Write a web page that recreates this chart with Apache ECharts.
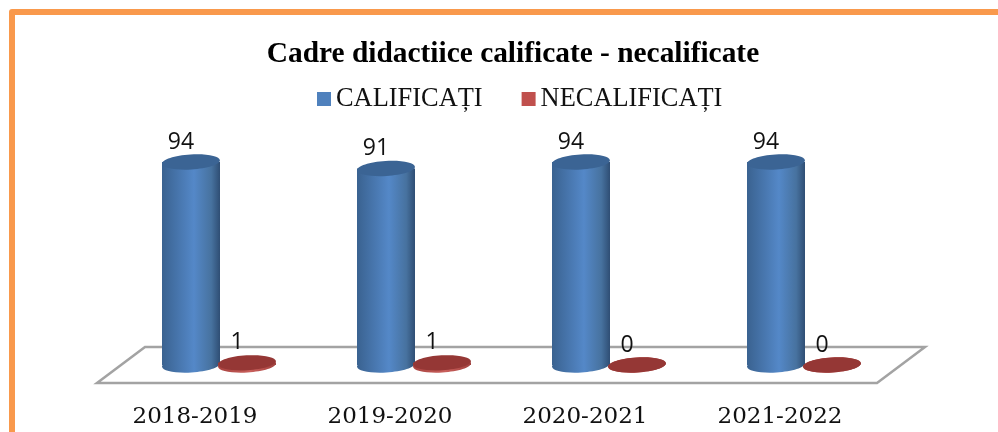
<!DOCTYPE html>
<html>
<head>
<meta charset="utf-8">
<style>
  html, body { margin: 0; padding: 0; background: #fff; }
  #main { width: 998px; height: 432px; }
</style>
<script src="https://cdn.jsdelivr.net/npm/echarts@6/dist/echarts.min.js"></script>
</head>
<body>
<div id="main"></div>
<script>
  var years = ['2018-2019', '2019-2020', '2020-2021', '2021-2022'];
  var calificati = [94, 91, 94, 94];
  var necalificati = [1, 1, 0, 0];

  var myChart = echarts.init(document.getElementById('main'));
  var LinearGradient = echarts.graphic.LinearGradient;

  // 3d look: each bar sits a bit to the right of its axis label
  function cylinder(offset, palette) {
    return function (params, api) {
      var top = api.coord([api.value(0), api.value(1)]);
      var base = api.coord([api.value(0), 0]);
      var cx = top[0] + 24 + offset;
      var rx = 29, ry = 7.5, tilt = 0.06;
      var body = new LinearGradient(0, 0, 1, 0, [
        { offset: 0, color: palette[0] },
        { offset: 0.55, color: palette[1] },
        { offset: 0.85, color: palette[2] },
        { offset: 1, color: palette[3] }
      ]);
      return {
        type: 'group',
        children: [
          {
            type: 'ellipse',
            shape: { cx: cx, cy: base[1], rx: rx, ry: ry },
            originX: cx, originY: base[1], rotation: tilt,
            style: { fill: body }
          },
          {
            type: 'rect',
            shape: { x: cx - rx, y: top[1], width: rx * 2, height: base[1] - top[1] },
            style: { fill: body }
          },
          {
            type: 'ellipse',
            shape: { cx: cx, cy: top[1], rx: rx, ry: ry },
            originX: cx, originY: top[1], rotation: tilt,
            style: { fill: palette[4] }
          },
          {
            type: 'text',
            x: cx - 10, y: top[1] - 20,
            style: {
              text: String(api.value(1)),
              fill: '#111',
              font: '23px "Open Sans"',
              align: 'center',
              verticalAlign: 'middle'
            }
          }
        ]
      };
    };
  }

  var option = {
    backgroundColor: '#ffffff',
    animation: false,
    title: {
      text: 'Cadre didactiice calificate - necalificate',
      left: 508,
      top: 35,
      textAlign: 'center',
      textStyle: { fontFamily: 'Liberation Serif', fontWeight: 'bold', fontSize: 29.4, color: '#000' }
    },
    legend: {
      left: 312,
      top: 81,
      itemWidth: 14,
      itemHeight: 14,
      itemGap: 39,
      icon: 'rect',
      textStyle: { fontFamily: 'Liberation Serif', fontSize: 26.4, color: '#111' },
      data: ['CALIFICAȚI', 'NECALIFICAȚI']
    },
    grid: { left: 97.5, width: 780, top: 149, height: 216 },
    xAxis: {
      type: 'category',
      data: years,
      axisLine: { show: false },
      axisTick: { show: false },
      axisLabel: { margin: 41, fontFamily: 'DejaVu Serif', fontSize: 23, color: '#111' }
    },
    yAxis: { type: 'value', min: 0, max: 100, show: false },
    graphic: [
      {
        type: 'polyline',
        shape: { points: [[12, 432], [12, 12], [998, 12]] },
        style: { stroke: '#f9994c', lineWidth: 6, fill: 'none', lineJoin: 'round' }
      },
      {
        type: 'polygon',
        shape: { points: [[97, 383], [877, 383], [925, 347], [145, 347]] },
        style: { fill: '#fff', stroke: '#a3a3a3', lineWidth: 2.5 },
        z: 0
      }
    ],
    series: [
      {
        name: 'CALIFICAȚI',
        type: 'custom',
        renderItem: cylinder(-28, ['#3a6290', '#5488c8', '#47729f', '#2f4e74', '#3b6494']),
        itemStyle: { color: '#4f81bd' },
        encode: { x: 0, y: 1 },
        clip: false,
        z: 3,
        data: calificati.map(function (v, i) { return [i, v]; })
      },
      {
        name: 'NECALIFICAȚI',
        type: 'custom',
        renderItem: cylinder(28, ['#a8423f', '#c9605c', '#b04a47', '#a04340', '#953735']),
        itemStyle: { color: '#c0504d' },
        encode: { x: 0, y: 1 },
        clip: false,
        z: 4,
        data: necalificati.map(function (v, i) { return [i, v]; })
      }
    ]
  };

  myChart.setOption(option);
</script>
</body>
</html>
